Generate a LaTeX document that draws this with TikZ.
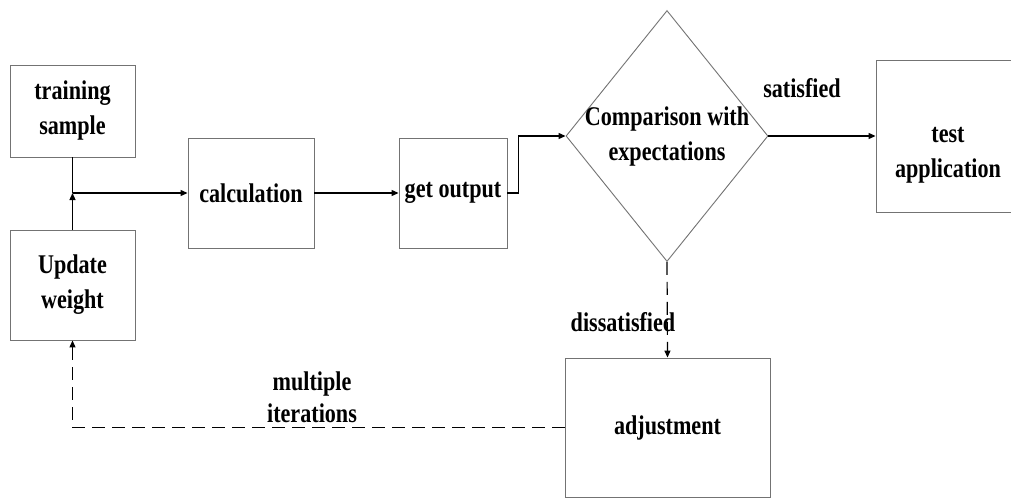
\documentclass[tikz,border=0pt]{standalone}
\usepackage{fontspec}
\setmainfont{Liberation Serif}[FakeStretch=0.82]
\usetikzlibrary{shapes.geometric,arrows.meta}
\begin{document}
\begin{tikzpicture}[x=1pt,y=-1pt,
  lbl/.style={font=\fontsize{27}{35}\selectfont\bfseries, align=center, inner sep=0pt},
  box/.style={draw=black!55, line width=0.9pt, rectangle, inner sep=0pt},
  conn/.style={draw=black, line width=1.2pt},
  tip/.style={-{Triangle[length=7pt,width=6pt]}},
  dashconn/.style={conn, dash pattern=on 13pt off 7pt}
]
\clip (0,0) rectangle (1011,498);
\fill[white] (0,0) rectangle (1011,498);

% boxes
\node[box, minimum width=125pt, minimum height=92pt] (train) at (72.5,111) {};
\node[lbl] (traintxt) at (train) {training\\sample};
\node[box, minimum width=125pt, minimum height=110pt] (update) at (72.5,285) {};
\node[lbl] (updatetxt) at (update) {Update\\weight};
\node[box, minimum width=126pt, minimum height=110pt] (calc) at (251,193) {};
\node[lbl] (calctxt) at (calc) {calculation};
\node[box, minimum width=108pt, minimum height=110pt] (out) at (453,193) {};
\node[lbl] (outtxt) at (out) {get output};
\node[draw=black!55, line width=0.9pt, diamond, inner sep=0pt, minimum width=202pt, minimum height=251pt] (cmp) at (667,136) {};
\node[lbl] (cmptxt) at (667,137) {Comparison with\\expectations};
\node[box, minimum width=144pt, minimum height=152pt] (test) at (948,136) {};
\node[lbl] (testtxt) at (948,155) {test\\application};
\node[box, minimum width=205pt, minimum height=139pt] (adj) at (667.5,427.5) {};
\node[lbl] (adjtxt) at (adj) {adjustment};

% labels
\node[lbl] (sat) at (802,88) {satisfied};
\node[lbl] (dissat) at (623,322) {dissatisfied};
\node[lbl, font=\fontsize{27}{32}\selectfont\bfseries] (iter) at (312,397) {multiple\\iterations};

% connectors
\coordinate (junc) at (72.5,193);
\draw[conn] (train.south) -- (junc);
\draw[conn, tip] (update.north) -- (junc);
\draw[conn, tip] (junc) -- (calc.west);
\draw[conn, tip] (calc.east) -- (out.west);
\draw[conn, tip] (out.east) -- ++(11,0) |- (cmp.west);
\draw[conn, tip] (cmp.east) -- (test.west);
\draw[dashconn, tip] (cmp.south) -- (adj.north);
\draw[dashconn, tip] (adj.west) -| (update.south);
\end{tikzpicture}
\end{document}
